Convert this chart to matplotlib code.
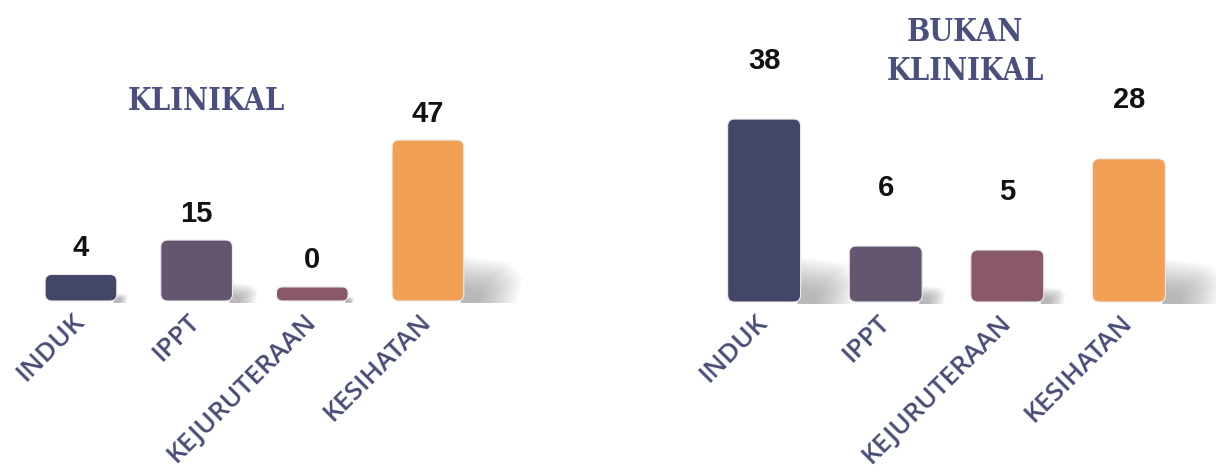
import matplotlib
matplotlib.use("Agg")
import matplotlib.pyplot as plt  # noqa: E402
import matplotlib.transforms as mtransforms  # noqa: E402
from matplotlib.patches import FancyBboxPatch, Polygon  # noqa: E402
import numpy as np  # noqa: E402

# jumlah mengikut bahagian
CATEGORIES = ["INDUK", "IPPT", "KEJURUTERAAN", "KESIHATAN"]
KLINIKAL = [4, 15, 0, 47]
BUKAN_KLINIKAL = [38, 6, 5, 28]
COLORS = ["#434666", "#655670", "#895968", "#f2a056"]

TITLE_COLOR = "#4b4f7e"
LABEL_COLOR = "#474b75"
W, H = 1216, 473

fig = plt.figure(figsize=(W / 100, H / 100), dpi=100)


def draw_panel(left_px, width_px, base_px, values, base, ymax, xlim, bar_w, label_dy, lab_dx):
    top_px = H - base_px
    ax = fig.add_axes([left_px / W, base_px / H, width_px / W, top_px / H])
    ax.set_xlim(*xlim)
    ax.set_ylim(-base, ymax)
    kx = width_px / (xlim[1] - xlim[0])
    ky = top_px / (ymax + base)
    x = np.arange(len(values))
    for xi, v, c in zip(x, values, COLORS):
        bottom, top = -base, v
        h_px = (top - bottom) * ky
        # soft floor shadow to the right of the bar
        xr = xi + bar_w / 2
        d = min(0.42 * h_px, 58) / kx
        hs = min(0.3 * h_px, 45) / ky
        for t in np.linspace(1.0, 0.3, 12):
            pts = [(xr - 3 / kx, bottom - 2 / ky), (xr - 3 / kx, bottom + hs * t),
                   (xr + d * t * 0.8, bottom + hs * t * 0.85),
                   (xr + d * t, bottom + hs * t * 0.5),
                   (xr + d * t * 0.9, bottom - 2 / ky)]
            ax.add_patch(Polygon(pts, closed=True, fc="#7a7a7a", ec="none", alpha=0.055,
                                 zorder=1, clip_on=False))
        # rounded bar
        r = min(7.0, h_px / 2 - 1)
        rx, ry = r / kx, r / ky
        ax.add_patch(FancyBboxPatch((xi - bar_w / 2 + rx, bottom + ry), bar_w - 2 * rx,
                                    top - bottom - 2 * ry,
                                    boxstyle=f"round,pad={rx},rounding_size={rx}",
                                    mutation_aspect=ry / rx, fc=c, ec="#ececf0", lw=0.8,
                                    zorder=2, clip_on=False))
        ax.annotate(str(v), (xi, top), xytext=(0, label_dy), textcoords="offset points",
                    ha="center", va="bottom", fontsize=21, fontweight="bold",
                    family="Liberation Sans", color="#111111")
    ax.set_xticks(x, CATEGORIES, rotation=45, ha="right", va="center",
                  rotation_mode="anchor", fontsize=19, color=LABEL_COLOR,
                  family="Open Sans", fontweight="semibold")
    shift = mtransforms.ScaledTranslation(lab_dx / 100, 0, fig.dpi_scale_trans)
    for lab in ax.get_xticklabels():
        lab.set_transform(lab.get_transform() + shift)
    ax.tick_params(axis="x", length=0, pad=12)
    ax.set_yticks([])
    for s in ax.spines.values():
        s.set_visible(False)
    ax.patch.set_alpha(0)
    return ax


draw_panel(0, 532, 172, KLINIKAL, 4.5, 91.8, (-0.7, 3.9), 0.62, 9, -7)
draw_panel(679, 535, 171, BUKAN_KLINIKAL, 8.1, 68.0, (-0.7, 3.7), 0.6, 32, -5)

title_kw = dict(ha="center", va="center", fontsize=22, color=TITLE_COLOR,
                family="DejaVu Serif", fontstretch="condensed", fontweight="bold")
fig.text(206 / W, 1 - 101 / H, "KLINIKAL", **title_kw)
fig.text(965 / W, 1 - 52 / H, "BUKAN\nKLINIKAL", linespacing=1.3, **title_kw)

fig.savefig("out.png", dpi=100)
